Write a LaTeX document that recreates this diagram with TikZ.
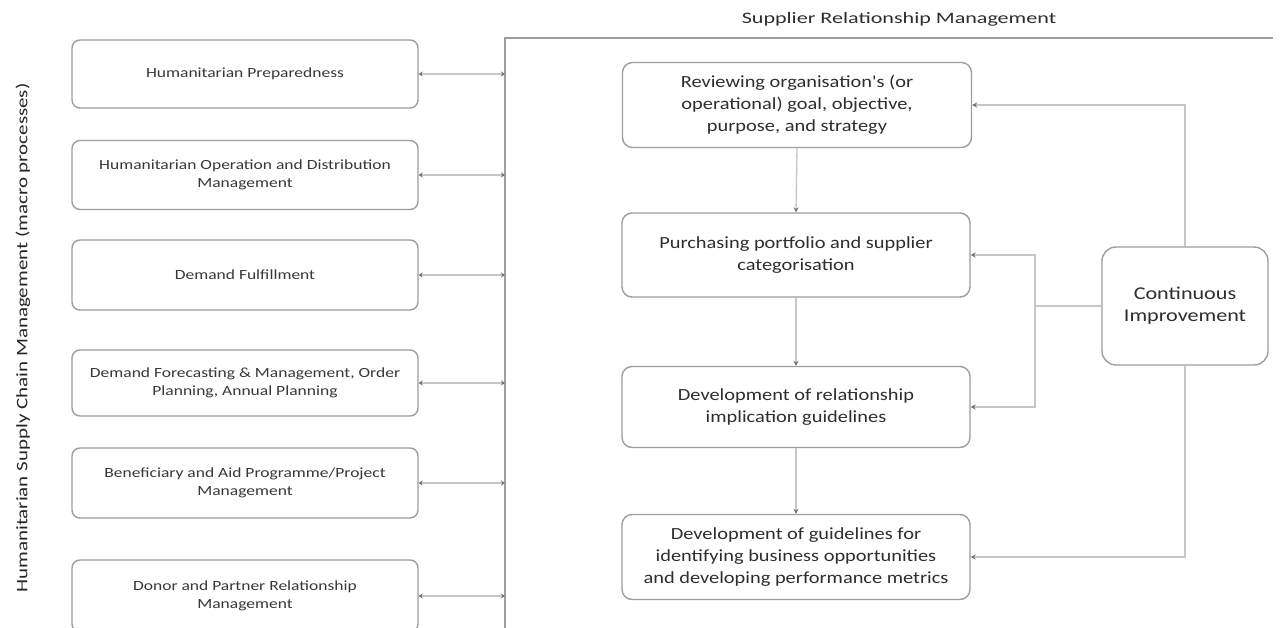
\documentclass[tikz,border=0pt]{standalone}
\usepackage{fontspec}
\setmainfont{Carlito}
\newfontfamily\lfont[FakeStretch=1.25]{Carlito}
\newfontfamily\rfont[FakeStretch=1.2]{Carlito}
\newfontfamily\tfont[FakeStretch=1.38]{Carlito}
\newfontfamily\vfont[FakeStretch=1.31]{Carlito}
\newfontfamily\cfont[FakeStretch=1.23]{Carlito}
\usetikzlibrary{arrows.meta,positioning}
\begin{document}
\begin{tikzpicture}[x=1pt,y=-1pt,
  lbox/.style={draw=black!38, line width=1.4pt, rounded corners=8pt, align=center, inner sep=0pt, text=black!78, font=\lfont\fontsize{14}{18}\selectfont},
  rbox/.style={draw=black!38, line width=1.4pt, rounded corners=10pt, align=center, inner sep=0pt, text=black!82, font=\rfont\fontsize{17}{22}\selectfont},
  conn/.style={draw=black!22, line width=1.3pt},
  tip/.style={-{Stealth[length=5pt,width=5pt,color=black!55]}},
  both/.style={{Stealth[length=4pt,width=5pt,color=black!55]}-{Stealth[length=4pt,width=5pt,color=black!55]}}
]
\useasboundingbox (0,0) rectangle (1280,627);
\clip (0,0) rectangle (1280,627);
\fill[white] (0,0) rectangle (1280,627);

% frame
\coordinate (frameL) at (505,0);
\draw[draw=black!38, line width=1.6pt] (505,660) -- (505,38) -- (1273,38);
\node[font=\tfont\fontsize{16}{18}\selectfont, text=black!82] (title) at (899,19) {Supplier Relationship Management};

% vertical label
\node[rotate=90, font=\vfont\fontsize{16}{18}\selectfont, text=black!85] (vlab) at (23,338) {Humanitarian Supply Chain Management (macro processes)};

% left boxes
\node[lbox, minimum width=346pt, minimum height=68pt] (l1) at (245,74) {Humanitarian Preparedness};
\node[lbox, minimum width=346pt, minimum height=69pt] (l2) at (245,175) {Humanitarian Operation and Distribution\\Management};
\node[lbox, minimum width=346pt, minimum height=70pt] (l3) at (245,275) {Demand Fulfillment};
\node[lbox, minimum width=346pt, minimum height=66pt] (l4) at (245,383) {Demand Forecasting \& Management, Order\\Planning, Annual Planning};
\node[lbox, minimum width=346pt, minimum height=70pt] (l5) at (245,483) {Beneficiary and Aid Programme/Project\\Management};
\node[lbox, minimum width=346pt, minimum height=72pt] (l6) at (245,596) {Donor and Partner Relationship\\Management};

\foreach \i in {1,...,6}{
  \coordinate (f\i) at (frameL |- l\i.east);
  \draw[conn, both] (l\i.east) -- (f\i);
}

% right boxes
\node[rbox, minimum width=349pt, minimum height=85pt] (r1) at (797,105) {Reviewing organisation's (or\\operational) goal, objective,\\purpose, and strategy};
\node[rbox, minimum width=348pt, minimum height=84pt] (r2) at (796,255) {Purchasing portfolio and supplier\\categorisation};
\node[rbox, minimum width=348pt, minimum height=81pt] (r3) at (796,407) {Development of relationship\\implication guidelines};
\node[rbox, minimum width=348pt, minimum height=85pt] (r4) at (796,557) {Development of guidelines for\\identifying business opportunities\\and developing performance metrics};

\node[rbox, minimum width=166pt, minimum height=118pt, rounded corners=14pt, font=\cfont\fontsize{18}{22}\selectfont] (ci) at (1185,306) {Continuous\\Improvement};

\draw[conn, tip] (r1.south) -- (r2.north);
\draw[conn, tip] (r2.south) -- (r3.north);
\draw[conn, tip] (r3.south) -- (r4.north);

\draw[conn, tip] (ci.north) |- (r1.east);
\draw[conn, tip] (ci.south) |- (r4.east);
\coordinate (jn) at (1035,306);
\draw[conn] (ci.west) -- (jn);
\draw[conn, tip] (jn) |- (r2.east);
\draw[conn, tip] (jn) |- (r3.east);
\end{tikzpicture}
\end{document}
